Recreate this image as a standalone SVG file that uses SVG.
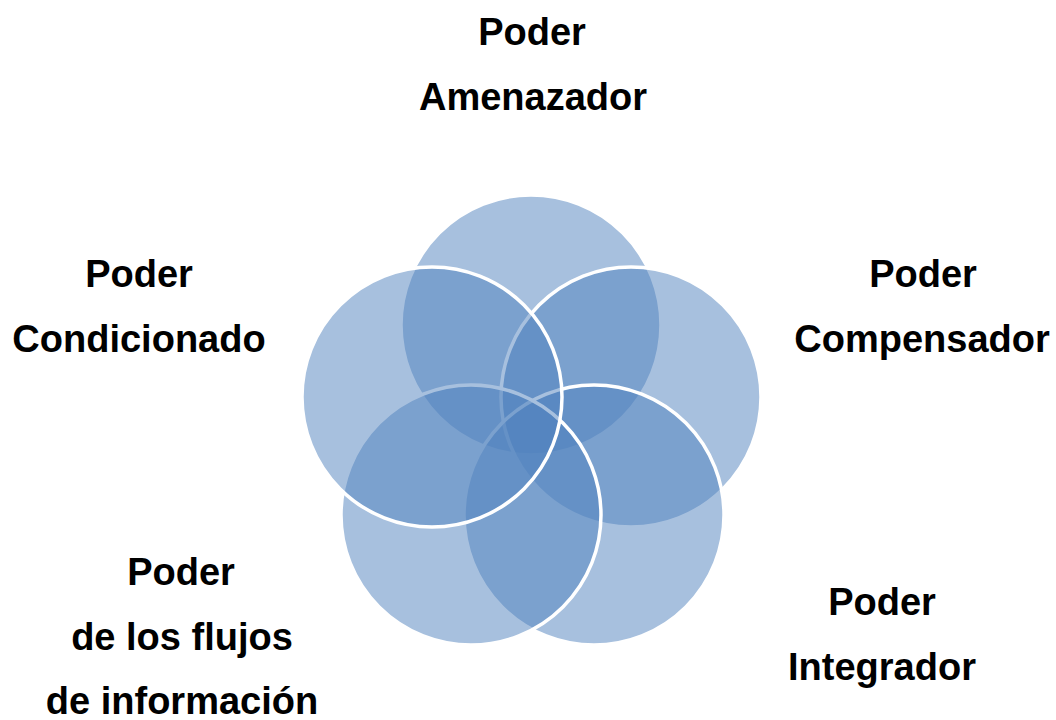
<svg xmlns="http://www.w3.org/2000/svg" width="1056" height="720" viewBox="0 0 1056 720">
<style>
.c{fill:#4f81bd;fill-opacity:0.5;stroke:#ffffff;stroke-width:3.5}
.t{font-family:"Liberation Sans",Arial,sans-serif;font-weight:bold;font-size:38px;fill:#000000;text-anchor:middle}
</style>
<rect width="1056" height="720" fill="#ffffff"/>
<g id="circles">
<g id="c-amenazador"><circle class="c" cx="531" cy="325" r="130"/></g>
<g id="c-compensador"><circle class="c" cx="631" cy="397" r="130"/></g>
<g id="c-integrador"><circle class="c" cx="594" cy="515" r="130"/></g>
<g id="c-informacion"><circle class="c" cx="471" cy="515" r="130"/></g>
<g id="c-condicionado"><circle class="c" cx="432" cy="397" r="130"/></g>
</g>
<g id="connectors"></g>
<g id="label-amenazador">
<text class="t" x="532" y="45">Poder</text>
<text class="t" x="533" y="110">Amenazador</text>
</g>
<g id="label-condicionado">
<text class="t" x="139" y="287">Poder</text>
<text class="t" x="139" y="352">Condicionado</text>
</g>
<g id="label-compensador">
<text class="t" x="923" y="287">Poder</text>
<text class="t" x="922" y="352">Compensador</text>
</g>
<g id="label-integrador">
<text class="t" x="882" y="615">Poder</text>
<text class="t" x="882" y="680">Integrador</text>
</g>
<g id="label-informacion">
<text class="t" x="181" y="585">Poder</text>
<text class="t" x="182" y="650">de los flujos</text>
<text class="t" x="182" y="714">de información</text>
</g>
</svg>
